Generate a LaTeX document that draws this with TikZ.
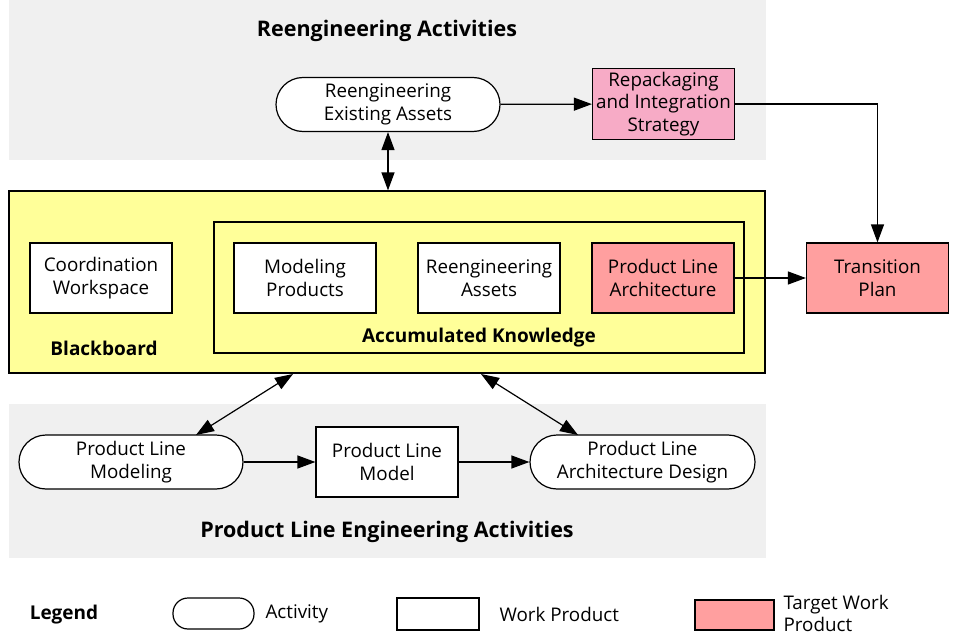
\documentclass[tikz,border=0pt]{standalone}
\usepackage{fontspec}
\setmainfont{Open Sans}
\usetikzlibrary{arrows.meta}

\definecolor{areagray}{HTML}{F0F0F0}
\definecolor{boardyellow}{HTML}{FFFF99}
\definecolor{stratpink}{HTML}{F7ABC6}
\definecolor{targetred}{HTML}{FF9F9F}

\tikzset{
	area/.style={fill=areagray, inner sep=0pt},
	activity/.style={draw, line width=1.2pt, fill=white, rounded corners=27pt, minimum width=224pt, minimum height=54pt, align=center, inner sep=0pt},
	workprod/.style={draw, line width=1.2pt, fill=white, minimum width=142pt, minimum height=70pt, align=center, inner sep=0pt},
	target/.style={workprod, fill=targetred},
	title/.style={font=\fontsize{21.5}{24}\selectfont\bfseries},
	subtitle/.style={font=\fontsize{19}{22}\selectfont\bfseries},
	conn/.style={line width=1.2pt, -{Triangle[length=18pt, width=13pt]}},
	biconn/.style={line width=1.2pt, {Triangle[length=18pt, width=13pt]}-{Triangle[length=18pt, width=13pt]}}
}

\begin{document}
\begin{tikzpicture}[x=1pt, y=-1pt, font=\fontsize{18.8}{22.5}\selectfont]
	\useasboundingbox (0,0) rectangle (954,634);

	% activity areas
	\node[area, minimum width=757pt, minimum height=160pt] (reengarea) at (387.5,80) {};
	\node[area, minimum width=757pt, minimum height=154pt] (plearea) at (387.5,481) {};
	\node[title] (reengtitle) at (387,31) {Reengineering Activities};
	\node[title] (pletitle) at (387,532) {Product Line Engineering Activities};

	% blackboard
	\node[draw, line width=1.2pt, fill=boardyellow, minimum width=756pt, minimum height=182pt, inner sep=0pt] (board) at (387,282) {};
	\node[draw, line width=1.2pt, minimum width=530pt, minimum height=131pt, inner sep=0pt] (knowledge) at (479,287.5) {};
	\node[subtitle] (boardlabel) at (104,348) {Blackboard};
	\node[subtitle] (knowlabel) at (479,338) {Accumulated Knowledge};

	\node[workprod] (coord) at (101,278) {Coordination\\Workspace};
	\node[workprod] (modprod) at (305,278) {Modeling\\Products};
	\node[workprod] (reassets) at (489,278) {Reengineering\\Assets};
	\node[target] (pla) at (663,278) {Product Line\\Architecture};
	\node[target] (transplan) at (877.5,278) {Transition\\Plan};

	% reengineering
	\node[activity] (reexist) at (388,104.5) {Reengineering\\Existing Assets};
	\node[workprod, fill=stratpink, minimum height=71pt] (repack) at (663.5,104) {Repackaging\\and Integration\\Strategy};

	% product line engineering
	\node[activity] (plmodeling) at (131,462) {Product Line\\Modeling};
	\node[workprod] (plmodel) at (387,462) {Product Line\\Model};
	\node[activity, minimum width=225pt] (pladesign) at (642.5,462) {Product Line\\Architecture Design};

	\coordinate (boardL) at (293,374);
	\coordinate (boardR) at (481,374);
	\coordinate (plmodTop) at (196,435);
	\coordinate (pladTop) at (578,435);

	\draw[conn] (reexist) -- (repack);
	\draw[conn] (repack.east) -| (transplan.north);
	\draw[conn] (pla) -- (transplan);
	\draw[biconn] (reexist.south) -- (reexist.south |- board.north);
	\draw[biconn] (boardL) -- (plmodTop);
	\draw[biconn] (boardR) -- (pladTop);
	\draw[conn] (plmodeling) -- (plmodel);
	\draw[conn] (plmodel) -- (pladesign);

	% legend
	\node[subtitle] (legend) at (64,615) {Legend};
	\node[activity, minimum width=81pt, minimum height=31pt, rounded corners=15pt] (legact) at (213.5,613.5) {};
	\node[anchor=west] (legacttext) at (262,614) {Activity};
	\node[workprod, minimum width=82pt, minimum height=32pt] (legwp) at (438,614) {};
	\node[anchor=west] (legwptext) at (496,614) {Work Product};
	\node[target, minimum width=79pt, minimum height=30pt] (legtwp) at (734.5,615) {};
	\node[anchor=west, align=left, font=\fontsize{18.8}{22}\selectfont] (legtwptext) at (780,613) {Target Work\\Product};
\end{tikzpicture}
\end{document}
